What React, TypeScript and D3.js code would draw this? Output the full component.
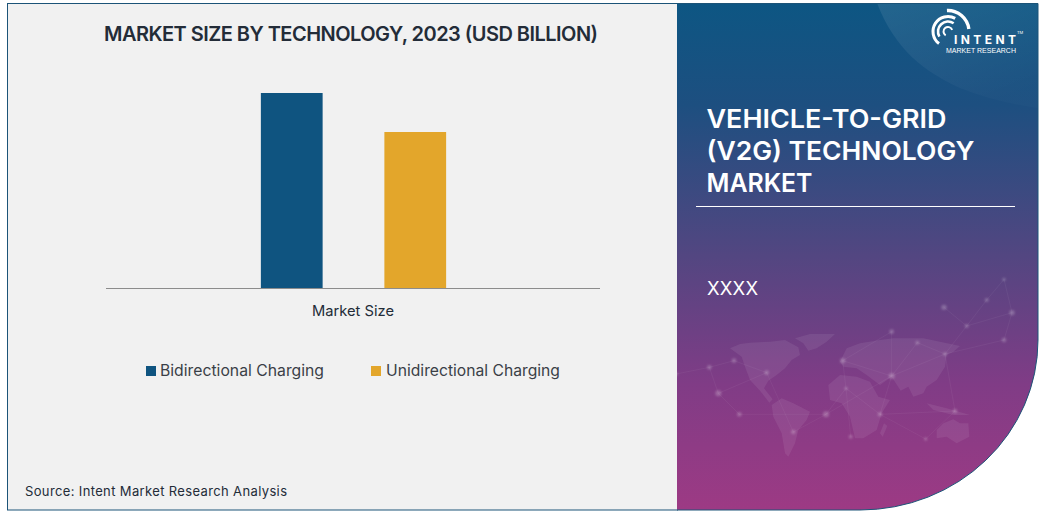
import React from "react";
import * as d3 from "d3";

const categories = ["Market Size"];
const seriesNames = ["Bidirectional Charging", "Unidirectional Charging"];
const seriesValues = [5, 4];
const seriesColors = ["#0f5480", "#e3a62b"];
const titleText = "MARKET SIZE BY TECHNOLOGY, 2023 (USD BILLION)";
const panelLines = ["VEHICLE-TO-GRID", "(V2G) TECHNOLOGY", "MARKET"];
const sourceText = "Source: Intent Market Research Analysis";

const continents: [number, number][][] = [
  [[210,265],[240,252],[270,248],[330,245],[375,240],[415,262],[420,285],[395,300],[375,325],[350,345],[325,362],[312,385],[338,418],[328,428],[300,392],[270,360],[255,320],[245,290]],
  [[405,235],[450,222],[525,222],[500,245],[470,265],[445,272],[430,250]],
  [[335,435],[365,415],[400,430],[450,455],[440,480],[415,510],[405,550],[385,590],[375,580],[365,520],[340,470]],
  [[505,375],[540,345],[590,350],[630,365],[655,410],[690,420],[665,460],[650,510],[610,535],[585,535],[570,470],[545,430],[510,420]],
  [[540,305],[560,265],[600,250],[660,240],[700,235],[790,235],[900,258],[880,275],[860,285],[855,320],[830,360],[800,380],[790,400],[760,410],[745,380],[722,392],[695,350],[660,375],[620,345],[590,325],[550,320]],
  [[800,430],[860,445],[930,465],[880,465],[820,450]],
  [[830,510],[850,490],[880,478],[900,490],[925,490],[928,530],[890,550],[860,530],[830,535]],
  [[672,490],[682,498],[668,530],[660,520]],
];
const nodes: [number, number, number][] = [
  [148,322,7],[222,302,7],[175,400,9],[238,463,7],[320,338,7],[400,516,7],[498,463,9],[548,302,8],[558,385,5],
  [695,215,7],[695,348,9],[660,463,7],[772,248,6],[855,282,6],[885,453,7],[852,142,8],[920,198,6],[980,120,6],
  [1056,158,8],[1032,240,7],[1032,58,5],[797,537,5],[572,530,6],[48,342,6],
];
const links: [number, number][] = [
  [0,1],[0,2],[1,4],[2,3],[2,4],[3,6],[4,5],[5,6],[6,8],[6,10],[7,10],[7,9],[8,11],[9,10],[10,12],[10,13],[10,11],[11,14],
  [11,21],[13,14],[13,16],[13,19],[15,16],[16,17],[16,18],[18,19],[17,20],[12,13],[14,21],[8,22],[0,23],[7,8],[18,20],
];

const mapX = (v: number) => 660 + v / 3;
const mapY = (v: number) => 260 + v / 3;

export default function App() {
  const x0 = d3.scaleBand<string>().domain(categories).range([106.5, 600.5]);
  const x1 = d3.scaleBand<string>().domain(seriesNames).range([0, x0.bandwidth()]).paddingInner(0.5).paddingOuter(1.25);
  const y = d3.scaleLinear().domain([0, 5]).range([288, 93]);
  const line = d3.line<[number, number]>().x(d => mapX(d[0])).y(d => mapY(d[1])).curve(d3.curveLinearClosed);
  const panel = "M677,3.5 H1038 V340 A178,170 0 0 1 860,510 H677 Z";
  const panelEdge = "M677,3.5 H1038 V340 A178,170 0 0 1 860,510 H677";
  const cx = 948, cy = 31.5;
  const arc = d3.arc();
  const arcs: [number, number, number, number][] = [
    [4.5, -2.6, 1.2, 1], [10, -2.1, 0.6, 1.3], [15, -2.5, 0.5, 1.5], [21, -0.05, 1.45, 1.7],
  ];
  const font = "Inter, 'Open Sans', sans-serif";
  return (
    <svg width={1043} height={513} style={{ position: "absolute", left: 0, top: 0, display: "block" }} fontFamily={font}>
      <defs>
        <linearGradient id="pg" x1="0" y1="0" x2="0" y2="1">
          <stop offset="0" stopColor="#0d5683" />
          <stop offset="0.2" stopColor="#1d4f80" />
          <stop offset="0.5" stopColor="#534681" />
          <stop offset="0.75" stopColor="#803c86" />
          <stop offset="1" stopColor="#9d3a84" />
        </linearGradient>
        <linearGradient id="hl" x1="0" y1="0" x2="0.6" y2="1">
          <stop offset="0" stopColor="#ffffff" stopOpacity="0.09" />
          <stop offset="1" stopColor="#ffffff" stopOpacity="0.015" />
        </linearGradient>
        <clipPath id="pc"><path d={panel} /></clipPath>
        <filter id="soft" x="-100%" y="-100%" width="300%" height="300%"><feGaussianBlur stdDeviation="0.9" /></filter>
      </defs>
      <rect width={1043} height={513} fill="#ffffff" />
      <rect x={7.5} y={3.5} width={670} height={506.5} fill="#f1f1f1" stroke="#1c5478" strokeWidth={1} />
      <path d={panel} fill="url(#pg)" />
      <g clipPath="url(#pc)">
        <path d="M877,3 C895,50 925,72 960,88 C985,98 1010,104 1038,108 V3 Z" fill="url(#hl)" />
        {continents.map((c, i) => <path key={i} d={line(c) ?? ""} fill="#ffffff" fillOpacity={0.075} />)}
        {links.map(([a, b], i) => (
          <line key={i} x1={mapX(nodes[a][0])} y1={mapY(nodes[a][1])} x2={mapX(nodes[b][0])} y2={mapY(nodes[b][1])} stroke="#ffffff" strokeOpacity={0.07} strokeWidth={0.7} />
        ))}
        <g filter="url(#soft)">
          {nodes.map((n, i) => <circle key={i} cx={mapX(n[0])} cy={mapY(n[1])} r={n[2] / 3} fill="#ffffff" fillOpacity={0.22} />)}
        </g>
      </g>
      <path d={panelEdge} fill="none" stroke="#1c5478" strokeWidth={1} />
      <path d="M677,4 V509.5" stroke="#534681" strokeWidth={1} strokeOpacity={0} />

      <text x={104} y={41} fontSize={20} fontWeight={600} fill="#232c38" textLength={494} lengthAdjust="spacing">{titleText}</text>
      {seriesNames.map((s, i) => (
        <rect key={s} x={(x0(categories[0]) ?? 0) + (x1(s) ?? 0)} y={y(seriesValues[i])} width={x1.bandwidth()} height={288 - y(seriesValues[i])} fill={seriesColors[i]} />
      ))}
      <line x1={106} x2={600} y1={288.5} y2={288.5} stroke="#8c8c8c" strokeWidth={1} />
      <text x={312} y={316} fontSize={14.5} fill="#232c38" textLength={82} lengthAdjust="spacingAndGlyphs">{categories[0]}</text>
      {seriesNames.map((s, i) => {
        const sx = [146, 371][i], tx = [160, 386][i], tl = [164, 174][i];
        return (
          <g key={s}>
            <rect x={sx} y={366} width={10} height={10} fill={seriesColors[i]} />
            <text x={tx} y={376} fontSize={15.5} fill="#3a3f47" textLength={tl} lengthAdjust="spacingAndGlyphs">{s}</text>
          </g>
        );
      })}
      <text x={25} y={496} fontSize={13} fill="#232c38" textLength={262} lengthAdjust="spacing">{sourceText}</text>

      {panelLines.map((t, i) => (
        <text key={t} x={706.5} y={128 + i * 32} fontSize={25.5} fontWeight={600} fill="#ffffff" textLength={[240, 268, 106][i]} lengthAdjust="spacingAndGlyphs">{t}</text>
      ))}
      <line x1={696} x2={1015} y1={206.5} y2={206.5} stroke="#ffffff" strokeWidth={1} />
      <text x={707} y={295} fontSize={18.5} fill="#ffffff" textLength={51} lengthAdjust="spacing">XXXX</text>

      <g fill="#ffffff">
        {arcs.map((a, i) => (
          <path key={i} transform={`translate(${cx},${cy})`} d={arc({ innerRadius: a[0] - a[3], outerRadius: a[0] + a[3], startAngle: a[1], endAngle: a[2] }) ?? ""} />
        ))}
        <text x={954} y={44} fontSize={12} fontWeight={700} textLength={62} lengthAdjust="spacing">INTENT</text>
        <text x={946} y={53} fontSize={7.6} fontFamily="'Liberation Sans', sans-serif" textLength={70} lengthAdjust="spacingAndGlyphs">MARKET RESEARCH</text>
        <text x={1017} y={34} fontSize={4}>TM</text>
      </g>
    </svg>
  );
}
